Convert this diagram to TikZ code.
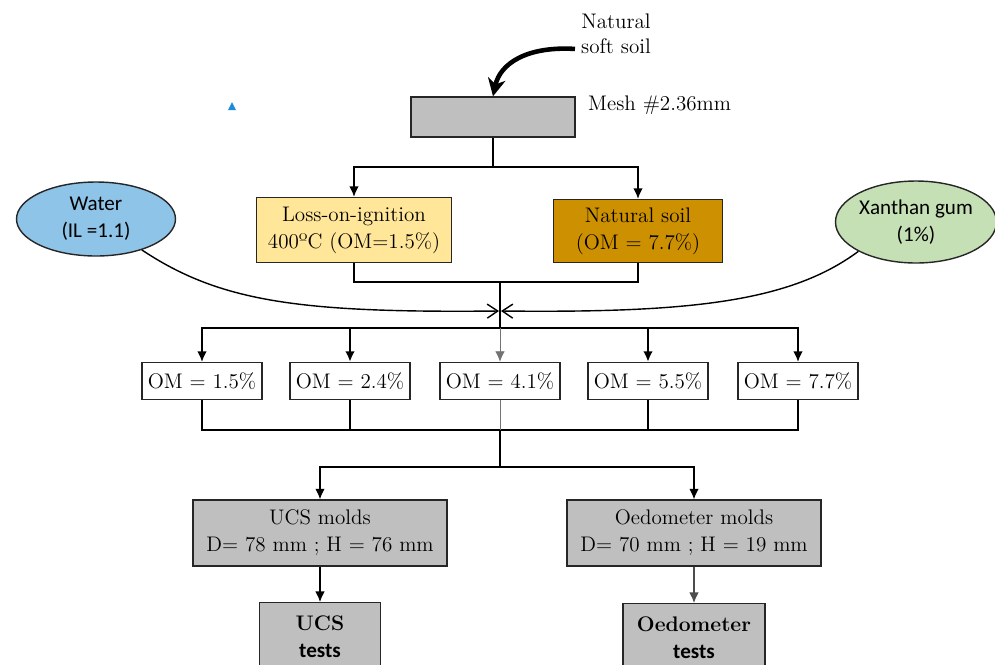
\documentclass[tikz,border=0pt]{standalone}
\usepackage{fontspec}
\usepackage{tikz}
\usetikzlibrary{positioning, shapes.geometric, arrows.meta}
\newfontfamily\calibri{Carlito}
\definecolor{meshgray}{HTML}{BFBFBF}
\definecolor{lossyellow}{HTML}{FFE699}
\definecolor{soilbrown}{HTML}{CC9000}
\definecolor{waterblue}{HTML}{8EC4E8}
\definecolor{gumgreen}{HTML}{C5E0B4}
\definecolor{markblue}{HTML}{1F8DD6}
\tikzstyle{every node}=[font=\fontsize{12}{15.3}\selectfont]
\tikzstyle{flowbox} = [draw=black!85, line width=0.8pt,
    rectangle, inner sep=2pt, align=center]
\tikzstyle{ombox} = [flowbox, fill=white, minimum width=2.4cm, minimum height=0.74cm]
\tikzstyle{bubble} = [draw=black!85, line width=0.8pt, ellipse, inner sep=0pt,
    align=center, font=\calibri\fontsize{12}{15.5}\selectfont]
\tikzstyle{plainline} = [line width=0.85pt]
\tikzstyle{boldline} = [line width=1.3pt]
\tikzstyle{faintline} = [line width=0.5pt, black!55]
\tikzstyle{link} = [plainline, -{Latex[length=6pt,width=5.5pt]}]
\tikzstyle{feed} = [line width=0.8pt, -{Straight Barb[length=6pt,width=8pt]}]

\begin{document}
\begin{tikzpicture}[x=0.02cm, y=-0.02cm]
	\useasboundingbox (0,0) rectangle (995,664);

	% sieving
	\node[align=center, font=\fontsize{12}{14.2}\selectfont] (nat) at (616,34) {Natural\\soft soil};
	\node[flowbox, fill=meshgray, minimum width=3.28cm, minimum height=0.8cm] (mesh) at (493,117) {};
	\node[anchor=west] (meshlbl) at (582,105) {Mesh \#2.36mm};
	\draw[line width=2.6pt, -{Stealth[length=10pt,width=10pt,inset=3pt]}]
		(nat.200) .. controls (526,46) and (500,64) .. (mesh.north);
	\fill[markblue] (228,110) -- (236,110) -- (232,102) -- cycle;

	% two soils
	\node[flowbox, fill=lossyellow, minimum width=3.9cm, minimum height=1.3cm] (loss) at (354,230)
		{Loss-on-ignition\\400ºC (OM=1.5\%)};
	\node[flowbox, fill=soilbrown, minimum width=3.38cm, minimum height=1.26cm] (soil) at (638,231)
		{Natural soil\\(OM = 7.7\%)};
	\coordinate (split1) at (493,167);
	\draw[plainline] (mesh.south) -- (split1);
	\draw[link] (split1) -| (loss.north);
	\draw[link] (split1) -| (soil.north);

	% mixing
	\node[bubble, fill=waterblue, minimum width=3.18cm, minimum height=1.48cm] (water) at (96,219)
		{Water\\(IL =1.1)};
	\node[bubble, fill=gumgreen, minimum width=3.16cm, minimum height=1.64cm] (gum) at (916,222)
		{Xanthan gum\\(1\%)};
	\coordinate (join1) at (500,282);
	\coordinate (split2) at (500,328);
	\coordinate (mixL) at (499,311);
	\coordinate (mixR) at (501,311);
	\draw[plainline] (loss.south) |- (join1) -| (soil.south);
	\draw[plainline] (join1) -- (split2);
	\draw[feed] (water.-34) .. controls (220,302) and (300,313) .. (mixL);
	\draw[feed] (gum.-153) .. controls (790,302) and (690,313) .. (mixR);

	% organic matter contents
	\foreach \val/\x [count=\i] in {1.5/202, 2.4/350, 4.1/500, 5.5/648, 7.7/798}
		\node[ombox] (om\i) at (\x,381) {OM = \val\%};
	\draw[link] (split2) -| (om1.north);
	\draw[link] (split2) -| (om5.north);
	\draw[link, boldline] (split2) -| (om2.north);
	\draw[link, boldline] (split2) -| (om4.north);
	\draw[faintline, -{Latex[length=6pt,width=5.5pt]}] (split2) -- (om3.north);

	\coordinate (join2) at (500,430);
	\coordinate (split3) at (500,467);
	\draw[plainline] (om1.south) |- (join2);
	\draw[plainline] (om5.south) |- (join2);
	\draw[boldline] (om2.south) |- (join2);
	\draw[boldline] (om4.south) |- (join2);
	\draw[faintline] (om3.south) -- (join2);
	\draw[plainline] (join2) -- (split3);

	% molds and tests
	\node[flowbox, fill=meshgray, minimum width=5.08cm, minimum height=1.32cm] (ucsmold) at (320,533)
		{UCS molds\\D= 78 mm ; H = 76 mm};
	\node[flowbox, fill=meshgray, minimum width=5.08cm, minimum height=1.32cm] (oedmold) at (694,533)
		{Oedometer molds\\D= 70 mm ; H = 19 mm};
	\draw[link] (split3) -| (ucsmold.north);
	\draw[link] (split3) -| (oedmold.north);

	\node[flowbox, fill=meshgray, minimum width=2.42cm, minimum height=1.36cm, anchor=north,
		font=\fontsize{12}{15.8}\selectfont] (ucstest) at (320,602)
		{\textbf{UCS}\\{\calibri\bfseries tests}};
	\node[flowbox, fill=meshgray, minimum width=2.84cm, minimum height=1.36cm, anchor=north,
		font=\fontsize{12}{15.8}\selectfont] (oedtest) at (694,603)
		{\textbf{Oedometer}\\{\calibri\bfseries tests}};
	\draw[link] (ucsmold.south) -- (ucstest.north);
	\draw[link, black!70] (oedmold.south) -- (oedtest.north);
\end{tikzpicture}
\end{document}
